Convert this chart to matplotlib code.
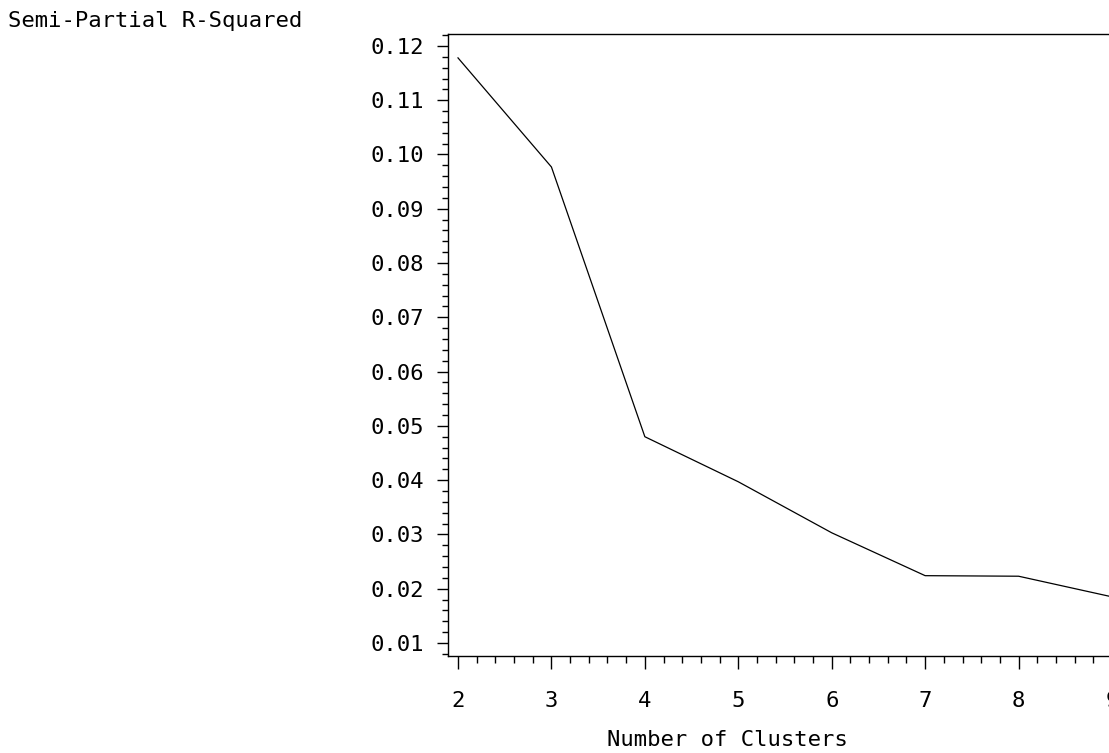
import matplotlib.pyplot as plt
from matplotlib.ticker import MultipleLocator, FormatStrFormatter

# values
clusters = [2, 3, 4, 5, 6, 7, 8, 9]
sprsq = [0.1178, 0.0977, 0.0480, 0.0397, 0.0303, 0.0224, 0.0223, 0.0185]

plt.rcParams['font.family'] = ['DejaVu Sans Mono']
plt.rcParams['font.size'] = 16

fig = plt.figure(figsize=(11.09, 7.53), dpi=100)
# the plot area runs a little past the right edge, as in the reference
ax = fig.add_axes([448 / 1109, 1 - 656 / 753, (1115 - 448) / 1109, (656 - 34) / 753])

ax.plot(clusters, sprsq, color='black', linewidth=0.9)

ax.set_xlim(1.893, 9.032)
ax.set_ylim(0.0076, 0.1222)

ax.xaxis.set_major_locator(MultipleLocator(1))
ax.xaxis.set_minor_locator(MultipleLocator(0.2))
ax.yaxis.set_major_locator(MultipleLocator(0.01))
ax.yaxis.set_minor_locator(MultipleLocator(0.002))
ax.yaxis.set_major_formatter(FormatStrFormatter('%.2f'))

ax.spines['right'].set_visible(False)
for s in ['left', 'bottom', 'top']:
    ax.spines[s].set_linewidth(1.0)

ax.tick_params(axis='y', which='major', length=8, width=1, pad=9)
ax.tick_params(axis='y', which='minor', length=4, width=1)
ax.tick_params(axis='x', which='major', length=9, width=1, pad=16)
ax.tick_params(axis='x', which='minor', length=5, width=1)

fig.text(8 / 1109, 1 - 21 / 753, 'Semi-Partial R-Squared', ha='left', va='center')
fig.text(727 / 1109, 1 - 740 / 753, 'Number of Clusters', ha='center', va='center')

fig.savefig('out.png', dpi=100)
